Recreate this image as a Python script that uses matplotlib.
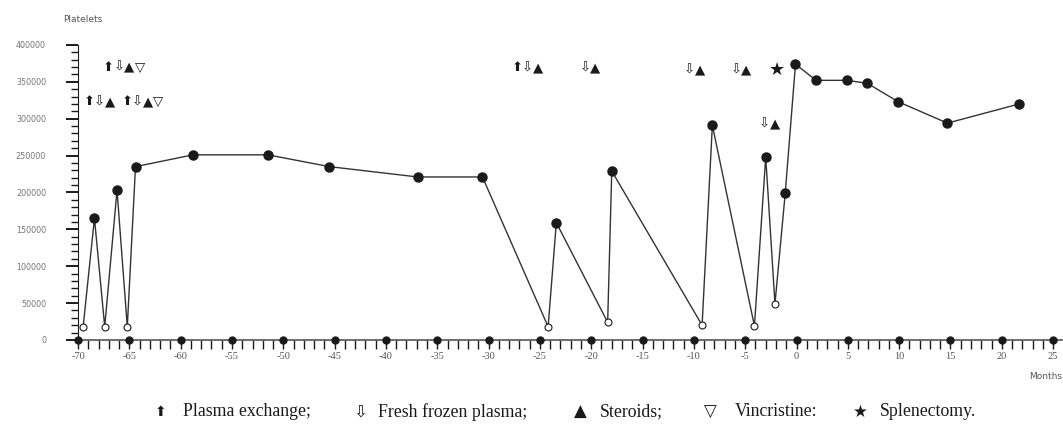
"""Platelet count over time with treatment markers."""

import matplotlib.pyplot as plt
from matplotlib.ticker import MultipleLocator

# months relative to splenectomy, platelet count per measurement
months = [-69.5, -68.4, -67.4, -66.2, -65.2, -64.4, -58.8, -51.5, -45.5, -36.9, -30.6,
          -24.2, -23.4, -18.4, -18.0, -9.2, -8.2, -4.1, -3.0, -2.1, -1.1, -0.1,
          1.9, 4.9, 6.9, 9.9, 14.7, 21.7]
platelets = [18000, 165000, 18000, 203000, 18000, 235000, 251000, 251000, 235000, 221000, 221000,
             18000, 159000, 24000, 229000, 20000, 291000, 19000, 248000, 49000, 199000, 374000,
             352000, 352000, 348000, 323000, 294000, 320000]
open_point = [True, False, True, False, True, False, False, False, False, False, False,
              True, False, True, False, True, False, True, False, True, False, False,
              False, False, False, False, False, False]

# dots sitting on the time axis
axis_marks = [-70, -65, -60, -55, -50, -45, -40, -35, -30, -25, -20, -15, -10, -5,
              0, 5, 10, 15, 20, 25]

# treatment symbols above the curve
treat_labels = ["⬆⇩▲▽", "⬆⇩▲", "⬆⇩▲▽", "⬆⇩▲", "⇩▲", "⇩▲", "⇩▲", "★", "⇩▲"]
treat_month = [-65.5, -67.9, -63.7, -26.2, -20.1, -9.9, -5.4, -1.9, -2.6]
treat_level = [370000, 323000, 323000, 369000, 369000, 366000, 366000, 366000, 293000]

legend_symbols = ["⬆", "⇩", "▲", "▽", "★"]
legend_names = ["Plasma exchange;", "Fresh frozen plasma;", "Steroids;", "Vincristine:",
                "Splenectomy."]

x_ticks = [-70, -65, -60, -55, -50, -45, -40, -35, -30, -25, -20, -15, -10, -5,
           0, 5, 10, 15, 20, 25]
y_ticks = [0, 50000, 100000, 150000, 200000, 250000, 300000, 350000, 400000]

INK = "#1a1a1a"
GREY = "#555555"

fig = plt.figure(figsize=(10.63, 4.32), dpi=100)
ax = fig.add_axes([0.0734, 0.213, 0.926, 0.683])

ax.plot(months, platelets, color="#333333", linewidth=1.0, zorder=2)
filled_x = [m for m, o in zip(months, open_point) if not o]
filled_y = [p for p, o in zip(platelets, open_point) if not o]
open_x = [m for m, o in zip(months, open_point) if o]
open_y = [p for p, o in zip(platelets, open_point) if o]
ax.plot(filled_x, filled_y, "o", color=INK, markersize=6.5, zorder=3)
ax.plot(open_x, open_y, "o", markerfacecolor="white", markeredgecolor=INK,
        markeredgewidth=0.8, markersize=5, zorder=3)

ax.plot(axis_marks, [0] * len(axis_marks), "o", color=INK, markersize=5,
        clip_on=False, zorder=4)

# each symbol drawn on its own so the groups stay tight
step = 7.4
for lab, m, lvl in zip(treat_labels, treat_month, treat_level):
    n = len(lab)
    for i, ch in enumerate(lab):
        size = 13 if ch == "★" else 9.5
        ax.annotate(ch, (m, lvl), xytext=((i - (n - 1) / 2) * step, 0),
                    textcoords="offset points", ha="center", va="center",
                    fontsize=size, color=INK, family=["DejaVu Sans"])

ax.set_xlim(-70, 25.9)
ax.set_ylim(0, 400000)

for side in ("top", "right"):
    ax.spines[side].set_visible(False)
ax.spines["left"].set_color(INK)
ax.spines["bottom"].set_color(GREY)
ax.spines["bottom"].set_linewidth(1.2)

ax.set_xticks(x_ticks)
ax.set_xticklabels([str(t) for t in x_ticks], family="Liberation Serif", fontsize=7.5,
                   color=GREY)
ax.xaxis.set_minor_locator(MultipleLocator(1))
ax.tick_params(axis="x", which="both", direction="out", length=6.5, width=1.0,
               color=INK, pad=2)

ax.set_yticks(y_ticks)
ax.set_yticklabels([str(t) for t in y_ticks], fontsize=5.8, color="#777777")
ax.yaxis.set_minor_locator(MultipleLocator(10000))
ax.tick_params(axis="y", which="major", direction="out", length=9, width=1.4,
               color=INK, pad=14)
ax.tick_params(axis="y", which="minor", direction="out", length=5, width=1.0,
               color=INK)

fig.text(0.059, 0.955, "Platelets", fontsize=6.5, color=GREY, ha="left", va="center")
fig.text(0.999, 0.128, "Months", fontsize=6.5, color=GREY, ha="right", va="center")

# legend row below the axis
sym_x = [0.151, 0.339, 0.546, 0.668, 0.809]
name_x = [0.172, 0.356, 0.564, 0.691, 0.828]
for sx, nx, sym, name in zip(sym_x, name_x, legend_symbols, legend_names):
    fig.text(sx, 0.047, sym, fontsize=10 if sym == "⬆" else 12, color=INK,
             ha="center", va="center", family=["DejaVu Sans"])
    fig.text(nx, 0.047, name, fontsize=12.8, color=INK, ha="left", va="center",
             family=["Liberation Serif", "DejaVu Sans"])

fig.savefig("out.png", dpi=100, facecolor="white")
